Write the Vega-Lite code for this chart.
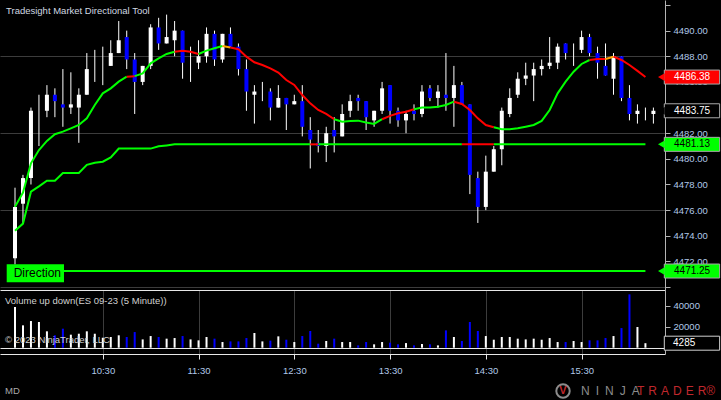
{
"$schema":"https://vega.github.io/schema/vega-lite/v6.json",
"background":"#000000",
"padding":0,
"spacing":0,
"config":{"view":{"stroke":null},"font":"Liberation Sans","scale":{"continuousPadding":0},"axis":{"labelFont":"Liberation Sans","labelFontSize":9.5,"labelColor":"#b0c8e8","gridColor":"#3c3c3c","domainColor":"#b4b4b4","tickColor":"#b4b4b4","tickSize":5,"labelPadding":3,"title":null}},
"datasets":{
"bars":[
{"t":"2023-08-14T09:35","o":4472.25,"h":4477.75,"l":4471.75,"c":4476.25,"v":38700},
{"t":"2023-08-14T09:40","o":4476.5,"h":4478.75,"l":4475,"c":4478.5,"v":21300},
{"t":"2023-08-14T09:45","o":4478.5,"h":4484,"l":4478,"c":4483.75,"v":25400},
{"t":"2023-08-14T09:50","o":4482,"h":4485,"l":4481,"c":4482,"v":24500},
{"t":"2023-08-14T09:55","o":4483.75,"h":4485.75,"l":4483.25,"c":4485,"v":15600},
{"t":"2023-08-14T10:00","o":4485,"h":4485.5,"l":4483.25,"c":4484.5,"v":11800},
{"t":"2023-08-14T10:05","o":4484.25,"h":4487,"l":4482.5,"c":4484,"v":18100},
{"t":"2023-08-14T10:10","o":4484,"h":4486.75,"l":4483.5,"c":4484.25,"v":12400},
{"t":"2023-08-14T10:15","o":4484,"h":4485.5,"l":4481.25,"c":4485,"v":13300},
{"t":"2023-08-14T10:20","o":4485,"h":4488.25,"l":4485,"c":4487,"v":15600},
{"t":"2023-08-14T10:25","o":4487,"h":4488.5,"l":4486,"c":4487,"v":13300},
{"t":"2023-08-14T10:30","o":4487.25,"h":4488.75,"l":4485.75,"c":4487.25,"v":9500},
{"t":"2023-08-14T10:35","o":4487.25,"h":4489.25,"l":4487.25,"c":4488.25,"v":10200},
{"t":"2023-08-14T10:40","o":4488.25,"h":4490.75,"l":4488.25,"c":4489.25,"v":11800},
{"t":"2023-08-14T10:45","o":4489.5,"h":4490,"l":4487,"c":4487.75,"v":10200},
{"t":"2023-08-14T10:50","o":4487.75,"h":4488.25,"l":4483.5,"c":4486,"v":14900},
{"t":"2023-08-14T10:55","o":4486,"h":4487.25,"l":4485.75,"c":4487.25,"v":7900},
{"t":"2023-08-14T11:00","o":4487.25,"h":4490.5,"l":4487,"c":4490.25,"v":11100},
{"t":"2023-08-14T11:05","o":4490.25,"h":4491,"l":4488.5,"c":4489,"v":10200},
{"t":"2023-08-14T11:10","o":4489,"h":4491.25,"l":4489,"c":4489.5,"v":8600},
{"t":"2023-08-14T11:15","o":4489.25,"h":4490.75,"l":4488,"c":4490,"v":9200},
{"t":"2023-08-14T11:20","o":4490,"h":4490,"l":4486.25,"c":4487.5,"v":11100},
{"t":"2023-08-14T11:25","o":4487.5,"h":4488.75,"l":4486,"c":4487.5,"v":7900},
{"t":"2023-08-14T11:30","o":4487.5,"h":4489.25,"l":4487,"c":4488,"v":7000},
{"t":"2023-08-14T11:35","o":4488,"h":4490.25,"l":4487.5,"c":4489.75,"v":10200},
{"t":"2023-08-14T11:40","o":4489.75,"h":4490,"l":4487.25,"c":4487.75,"v":8600},
{"t":"2023-08-14T11:45","o":4487.75,"h":4489.75,"l":4487.5,"c":4489.75,"v":5400},
{"t":"2023-08-14T11:50","o":4489.75,"h":4490.25,"l":4488.75,"c":4488.75,"v":6000},
{"t":"2023-08-14T11:55","o":4488.75,"h":4489,"l":4486.5,"c":4487,"v":6000},
{"t":"2023-08-14T12:00","o":4487,"h":4487.75,"l":4483.75,"c":4485.25,"v":9200},
{"t":"2023-08-14T12:05","o":4485,"h":4485.75,"l":4482.75,"c":4485.25,"v":14000},
{"t":"2023-08-14T12:10","o":4485.25,"h":4486,"l":4484.5,"c":4485.25,"v":6000},
{"t":"2023-08-14T12:15","o":4485.25,"h":4485.5,"l":4483,"c":4484,"v":6700},
{"t":"2023-08-14T12:20","o":4484,"h":4485.75,"l":4484,"c":4484.75,"v":10800},
{"t":"2023-08-14T12:25","o":4484.75,"h":4484.75,"l":4482.25,"c":4484.25,"v":7600},
{"t":"2023-08-14T12:30","o":4484.25,"h":4485,"l":4484.25,"c":4484.5,"v":5400},
{"t":"2023-08-14T12:35","o":4484.5,"h":4485.75,"l":4481.75,"c":4482.5,"v":11100},
{"t":"2023-08-14T12:40","o":4482.25,"h":4483.25,"l":4479.25,"c":4481.5,"v":15900},
{"t":"2023-08-14T12:45","o":4481.25,"h":4482.25,"l":4480.5,"c":4481,"v":3800},
{"t":"2023-08-14T12:50","o":4481,"h":4482.5,"l":4479.75,"c":4482,"v":6400},
{"t":"2023-08-14T12:55","o":4482.25,"h":4483.25,"l":4480.5,"c":4481.75,"v":8600},
{"t":"2023-08-14T13:00","o":4481.75,"h":4484.25,"l":4481.75,"c":4483.5,"v":5400},
{"t":"2023-08-14T13:05","o":4483.75,"h":4485,"l":4483.25,"c":4484.5,"v":5400},
{"t":"2023-08-14T13:10","o":4484.75,"h":4485,"l":4483.75,"c":4484.5,"v":2200},
{"t":"2023-08-14T13:15","o":4484.5,"h":4484.5,"l":4482.25,"c":4483.25,"v":5400},
{"t":"2023-08-14T13:20","o":4483,"h":4483.75,"l":4482.5,"c":4483.75,"v":3200},
{"t":"2023-08-14T13:25","o":4483.75,"h":4486,"l":4483.5,"c":4485.5,"v":5400},
{"t":"2023-08-14T13:30","o":4485.75,"h":4485.75,"l":4482.75,"c":4483.75,"v":4800},
{"t":"2023-08-14T13:35","o":4483.75,"h":4484,"l":4482.5,"c":4483,"v":3200},
{"t":"2023-08-14T13:40","o":4483,"h":4483.75,"l":4482,"c":4483.5,"v":4400},
{"t":"2023-08-14T13:45","o":4483.75,"h":4484.25,"l":4483,"c":4483.5,"v":2200},
{"t":"2023-08-14T13:50","o":4483.5,"h":4485.75,"l":4483.25,"c":4485.25,"v":3500},
{"t":"2023-08-14T13:55","o":4485.5,"h":4485.75,"l":4484.5,"c":4484.75,"v":3200},
{"t":"2023-08-14T14:00","o":4484.75,"h":4485.75,"l":4484,"c":4485.25,"v":2200},
{"t":"2023-08-14T14:05","o":4485,"h":4488.25,"l":4483.75,"c":4484.75,"v":16500},
{"t":"2023-08-14T14:10","o":4484.75,"h":4487.25,"l":4482.5,"c":4485.75,"v":10200},
{"t":"2023-08-14T14:15","o":4485.75,"h":4486,"l":4484.25,"c":4484.25,"v":6400},
{"t":"2023-08-14T14:20","o":4484.25,"h":4484.25,"l":4477.25,"c":4478.75,"v":24500},
{"t":"2023-08-14T14:25","o":4478.5,"h":4479,"l":4475,"c":4476.25,"v":15900},
{"t":"2023-08-14T14:30","o":4476.25,"h":4480.25,"l":4476,"c":4479,"v":11100},
{"t":"2023-08-14T14:35","o":4479,"h":4481,"l":4479,"c":4480.75,"v":7600},
{"t":"2023-08-14T14:40","o":4480.75,"h":4484,"l":4479.5,"c":4483.75,"v":10200},
{"t":"2023-08-14T14:45","o":4483.5,"h":4485.5,"l":4483.25,"c":4484.75,"v":10200},
{"t":"2023-08-14T14:50","o":4485,"h":4486.75,"l":4484.75,"c":4486.25,"v":8600},
{"t":"2023-08-14T14:55","o":4486.25,"h":4487.5,"l":4485.75,"c":4486.5,"v":7900},
{"t":"2023-08-14T15:00","o":4486.5,"h":4487.5,"l":4484.5,"c":4487,"v":8600},
{"t":"2023-08-14T15:05","o":4487,"h":4487.75,"l":4486.5,"c":4487.25,"v":7600},
{"t":"2023-08-14T15:10","o":4487.25,"h":4489.5,"l":4487,"c":4487.5,"v":9200},
{"t":"2023-08-14T15:15","o":4487.5,"h":4489,"l":4487,"c":4488.75,"v":5400},
{"t":"2023-08-14T15:20","o":4489,"h":4489,"l":4487.75,"c":4488.25,"v":5400},
{"t":"2023-08-14T15:25","o":4488.25,"h":4489,"l":4487.25,"c":4488.25,"v":6400},
{"t":"2023-08-14T15:30","o":4488.5,"h":4490,"l":4488.25,"c":4489.5,"v":5400},
{"t":"2023-08-14T15:35","o":4489.5,"h":4489.75,"l":4488,"c":4488.25,"v":7000},
{"t":"2023-08-14T15:40","o":4488.25,"h":4488.75,"l":4486.25,"c":4487.5,"v":7000},
{"t":"2023-08-14T15:45","o":4487.25,"h":4489,"l":4486.5,"c":4486.5,"v":9200},
{"t":"2023-08-14T15:50","o":4486.25,"h":4488.25,"l":4485,"c":4488,"v":11100},
{"t":"2023-08-14T15:55","o":4488,"h":4488,"l":4484.5,"c":4484.75,"v":18700},
{"t":"2023-08-14T16:00","o":4484.75,"h":4485.75,"l":4483,"c":4483.5,"v":50800},
{"t":"2023-08-14T16:05","o":4483.5,"h":4484.25,"l":4482.75,"c":4483.75,"v":19700},
{"t":"2023-08-14T16:10","o":4483.5,"h":4484,"l":4483,"c":4483.5,"v":4285},
{"t":"2023-08-14T16:15","o":4483.5,"h":4484,"l":4482.75,"c":4483.75}
],
"lines":[
{"t":"2023-08-14T09:35","p":4476.27,"s":"up","g":1},{"t":"2023-08-14T09:40","p":4477.37,"s":"up","g":1},{"t":"2023-08-14T09:45","p":4479.65,"s":"up","g":1},{"t":"2023-08-14T09:50","p":4480.69,"s":"up","g":1},{"t":"2023-08-14T09:55","p":4481.4,"s":"up","g":1},{"t":"2023-08-14T10:00","p":4481.92,"s":"up","g":1},{"t":"2023-08-14T10:05","p":4482.12,"s":"up","g":1},{"t":"2023-08-14T10:10","p":4482.38,"s":"up","g":1},{"t":"2023-08-14T10:15","p":4482.64,"s":"up","g":1},{"t":"2023-08-14T10:20","p":4483.16,"s":"up","g":1},{"t":"2023-08-14T10:25","p":4484.2,"s":"up","g":1},{"t":"2023-08-14T10:30","p":4485.11,"s":"up","g":1},{"t":"2023-08-14T10:35","p":4485.5,"s":"up","g":1},{"t":"2023-08-14T10:40","p":4486.02,"s":"up","g":1},{"t":"2023-08-14T10:45","p":4486.41,"s":"up","g":1},
{"t":"2023-08-14T10:45","p":4486.41,"s":"down","g":2},{"t":"2023-08-14T10:50","p":4486.45,"s":"down","g":2},
{"t":"2023-08-14T10:50","p":4486.45,"s":"up","g":3},{"t":"2023-08-14T10:55","p":4486.67,"s":"up","g":3},{"t":"2023-08-14T11:00","p":4487.45,"s":"up","g":3},{"t":"2023-08-14T11:05","p":4487.84,"s":"up","g":3},{"t":"2023-08-14T11:10","p":4488.18,"s":"up","g":3},{"t":"2023-08-14T11:15","p":4488.36,"s":"up","g":3},
{"t":"2023-08-14T11:15","p":4488.36,"s":"down","g":4},{"t":"2023-08-14T11:20","p":4488.44,"s":"down","g":4},{"t":"2023-08-14T11:25","p":4488.36,"s":"down","g":4},{"t":"2023-08-14T11:30","p":4488.18,"s":"down","g":4},
{"t":"2023-08-14T11:30","p":4488.18,"s":"up","g":5},{"t":"2023-08-14T11:35","p":4488.44,"s":"up","g":5},{"t":"2023-08-14T11:40","p":4488.62,"s":"up","g":5},{"t":"2023-08-14T11:45","p":4488.8,"s":"up","g":5},
{"t":"2023-08-14T11:45","p":4488.8,"s":"flat","g":6},{"t":"2023-08-14T11:50","p":4488.68,"s":"flat","g":6},
{"t":"2023-08-14T11:50","p":4488.68,"s":"down","g":7},{"t":"2023-08-14T11:55","p":4488.55,"s":"down","g":7},{"t":"2023-08-14T12:00","p":4487.97,"s":"down","g":7},{"t":"2023-08-14T12:05","p":4487.53,"s":"down","g":7},{"t":"2023-08-14T12:10","p":4487.32,"s":"down","g":7},{"t":"2023-08-14T12:15","p":4487.06,"s":"down","g":7},{"t":"2023-08-14T12:20","p":4486.73,"s":"down","g":7},{"t":"2023-08-14T12:25","p":4486.15,"s":"down","g":7},{"t":"2023-08-14T12:30","p":4485.76,"s":"down","g":7},{"t":"2023-08-14T12:35","p":4484.98,"s":"down","g":7},{"t":"2023-08-14T12:40","p":4484.33,"s":"down","g":7},{"t":"2023-08-14T12:45","p":4483.81,"s":"down","g":7},{"t":"2023-08-14T12:50","p":4483.5,"s":"down","g":7},{"t":"2023-08-14T12:55","p":4483.09,"s":"down","g":7},
{"t":"2023-08-14T12:55","p":4483.09,"s":"up","g":8},{"t":"2023-08-14T13:00","p":4482.9,"s":"up","g":8},{"t":"2023-08-14T13:05","p":4482.96,"s":"up","g":8},{"t":"2023-08-14T13:10","p":4482.98,"s":"up","g":8},{"t":"2023-08-14T13:15","p":4482.83,"s":"up","g":8},{"t":"2023-08-14T13:20","p":4482.72,"s":"up","g":8},{"t":"2023-08-14T13:25","p":4483.09,"s":"up","g":8},
{"t":"2023-08-14T13:25","p":4483.09,"s":"down","g":9},{"t":"2023-08-14T13:30","p":4483.35,"s":"down","g":9},{"t":"2023-08-14T13:35","p":4483.55,"s":"down","g":9},{"t":"2023-08-14T13:40","p":4483.68,"s":"down","g":9},{"t":"2023-08-14T13:45","p":4483.87,"s":"down","g":9},
{"t":"2023-08-14T13:45","p":4483.87,"s":"up","g":10},{"t":"2023-08-14T13:50","p":4484.0,"s":"up","g":10},{"t":"2023-08-14T13:55","p":4484.0,"s":"up","g":10},{"t":"2023-08-14T14:00","p":4484.07,"s":"up","g":10},{"t":"2023-08-14T14:05","p":4484.2,"s":"up","g":10},{"t":"2023-08-14T14:10","p":4484.46,"s":"up","g":10},
{"t":"2023-08-14T14:10","p":4484.46,"s":"down","g":11},{"t":"2023-08-14T14:15","p":4484.28,"s":"down","g":11},{"t":"2023-08-14T14:20","p":4483.81,"s":"down","g":11},{"t":"2023-08-14T14:25","p":4483.16,"s":"down","g":11},{"t":"2023-08-14T14:30","p":4482.64,"s":"down","g":11},{"t":"2023-08-14T14:35","p":4482.46,"s":"down","g":11},
{"t":"2023-08-14T14:35","p":4482.46,"s":"up","g":12},{"t":"2023-08-14T14:40","p":4482.31,"s":"up","g":12},{"t":"2023-08-14T14:45","p":4482.31,"s":"up","g":12},{"t":"2023-08-14T14:50","p":4482.38,"s":"up","g":12},{"t":"2023-08-14T14:55","p":4482.51,"s":"up","g":12},{"t":"2023-08-14T15:00","p":4482.64,"s":"up","g":12},{"t":"2023-08-14T15:05","p":4482.96,"s":"up","g":12},{"t":"2023-08-14T15:10","p":4483.81,"s":"up","g":12},{"t":"2023-08-14T15:15","p":4485.11,"s":"up","g":12},{"t":"2023-08-14T15:20","p":4486.02,"s":"up","g":12},{"t":"2023-08-14T15:25","p":4486.8,"s":"up","g":12},{"t":"2023-08-14T15:30","p":4487.4,"s":"up","g":12},{"t":"2023-08-14T15:35","p":4487.71,"s":"up","g":12},
{"t":"2023-08-14T15:35","p":4487.71,"s":"down","g":13},{"t":"2023-08-14T15:40","p":4487.79,"s":"down","g":13},{"t":"2023-08-14T15:45","p":4487.79,"s":"down","g":13},
{"t":"2023-08-14T15:45","p":4487.79,"s":"flat","g":14},{"t":"2023-08-14T15:50","p":4487.97,"s":"flat","g":14},
{"t":"2023-08-14T15:50","p":4487.97,"s":"down","g":15},{"t":"2023-08-14T15:55","p":4487.71,"s":"down","g":15},{"t":"2023-08-14T16:00","p":4487.32,"s":"down","g":15},{"t":"2023-08-14T16:05","p":4486.86,"s":"down","g":15},{"t":"2023-08-14T16:10","p":4486.38,"s":"down","g":15},
{"t":"2023-08-14T09:35","p":4474.4,"s":"up","g":21},{"t":"2023-08-14T09:40","p":4474.95,"s":"up","g":21},{"t":"2023-08-14T09:45","p":4477.44,"s":"up","g":21},{"t":"2023-08-14T09:50","p":4477.85,"s":"up","g":21},{"t":"2023-08-14T09:55","p":4478.3,"s":"up","g":21},{"t":"2023-08-14T10:00","p":4478.3,"s":"up","g":21},{"t":"2023-08-14T10:05","p":4478.9,"s":"up","g":21},{"t":"2023-08-14T10:10","p":4478.9,"s":"up","g":21},{"t":"2023-08-14T10:15","p":4478.9,"s":"up","g":21},{"t":"2023-08-14T10:20","p":4479.53,"s":"up","g":21},{"t":"2023-08-14T10:25","p":4479.7,"s":"up","g":21},{"t":"2023-08-14T10:30","p":4479.78,"s":"up","g":21},{"t":"2023-08-14T10:35","p":4480.11,"s":"up","g":21},{"t":"2023-08-14T10:40","p":4480.8,"s":"up","g":21},{"t":"2023-08-14T10:45","p":4480.8,"s":"up","g":21},{"t":"2023-08-14T10:50","p":4480.8,"s":"up","g":21},{"t":"2023-08-14T10:55","p":4480.8,"s":"up","g":21},{"t":"2023-08-14T11:00","p":4480.8,"s":"up","g":21},{"t":"2023-08-14T11:05","p":4480.98,"s":"up","g":21},{"t":"2023-08-14T11:10","p":4481.05,"s":"up","g":21},{"t":"2023-08-14T11:15","p":4481.13,"s":"up","g":21},{"t":"2023-08-14T12:40","p":4481.13,"s":"up","g":21},
{"t":"2023-08-14T12:40","p":4481.13,"s":"down","g":22},{"t":"2023-08-14T12:45","p":4481.13,"s":"down","g":22},
{"t":"2023-08-14T12:45","p":4481.13,"s":"up","g":23},{"t":"2023-08-14T14:15","p":4481.13,"s":"up","g":23},
{"t":"2023-08-14T14:15","p":4481.13,"s":"down","g":24},{"t":"2023-08-14T14:35","p":4481.13,"s":"down","g":24},
{"t":"2023-08-14T14:35","p":4481.13,"s":"up","g":25},{"t":"2023-08-14T16:10","p":4481.13,"s":"up","g":25},
{"t":"2023-08-14T09:35","p":4471.25,"s":"up","g":30},{"t":"2023-08-14T16:10","p":4471.25,"s":"up","g":30}
],
"pflags":[{"p":4486.38,"k":"trend"},{"p":4483.75,"k":"last"},{"p":4481.13,"k":"stop"},{"p":4471.25,"k":"dir"}]
},
"vconcat":[
{"width":665,"height":290,
 "resolve":{"axis":{"y":"independent"}},
 "layer":[
  {"data":{"name":"bars"},
   "mark":{"type":"rule","color":"#ffffff","strokeWidth":1},
   "encoding":{
    "x":{"field":"t","type":"temporal","scale":{"padding":0,"domain":[{"year":2023,"month":8,"date":14,"hours":9,"minutes":25,"seconds":36},{"year":2023,"month":8,"date":14,"hours":16,"minutes":22,"seconds":16}]},
         "axis":{"orient":"bottom","values":[{"year":2023,"month":8,"date":14,"hours":10,"minutes":30},{"year":2023,"month":8,"date":14,"hours":11,"minutes":30},{"year":2023,"month":8,"date":14,"hours":12,"minutes":30},{"year":2023,"month":8,"date":14,"hours":13,"minutes":30},{"year":2023,"month":8,"date":14,"hours":14,"minutes":30},{"year":2023,"month":8,"date":14,"hours":15,"minutes":30}],"labels":false,"ticks":false,"domain":false,"grid":true,"minExtent":0,"maxExtent":0}},
    "y":{"field":"l","type":"quantitative","scale":{"padding":0,"domain":[4469.77,4492.39],"nice":false,"zero":false},
         "axis":{"orient":"right","values":[4470,4472,4474,4476,4478,4480,4482,4484,4486,4488,4490,4492],"grid":false,
                 "labelExpr":"(datum.value === 4470 || datum.value === 4484 || datum.value === 4492) ? '' : format(datum.value, '.2f')"}},
    "y2":{"field":"h"}}},
  {"data":{"name":"bars"},
   "mark":{"type":"bar","width":4},
   "encoding":{
    "x":{"field":"t","type":"temporal","scale":{"padding":0,"domain":[{"year":2023,"month":8,"date":14,"hours":9,"minutes":25,"seconds":36},{"year":2023,"month":8,"date":14,"hours":16,"minutes":22,"seconds":16}]},"axis":null},
    "y":{"field":"o","type":"quantitative","scale":{"padding":0,"domain":[4469.77,4492.39],"nice":false,"zero":false},"axis":null},
    "y2":{"field":"c"},
    "color":{"condition":{"test":"datum.c < datum.o","value":"#0000ff"},"value":"#ffffff"}}},
  {"data":{"name":"lines"},
   "mark":{"type":"line","strokeWidth":2},
   "encoding":{
    "x":{"field":"t","type":"temporal","scale":{"padding":0,"domain":[{"year":2023,"month":8,"date":14,"hours":9,"minutes":25,"seconds":36},{"year":2023,"month":8,"date":14,"hours":16,"minutes":22,"seconds":16}]},"axis":null},
    "y":{"field":"p","type":"quantitative","scale":{"padding":0,"domain":[4469.77,4492.39],"nice":false,"zero":false},
         "axis":{"orient":"left","values":[4470,4476,4482,4488],"labels":false,"ticks":false,"domain":false,"grid":true,"minExtent":0,"maxExtent":0}},
    "detail":{"field":"g","type":"nominal"},
    "color":{"field":"s","type":"nominal","scale":{"domain":["up","down","flat"],"range":["#00ff00","#ff0000","#ffa500"]},"legend":null}}},
  {"data":{"values":[{"txt":"Tradesight Market Directional Tool"}]},
   "mark":{"type":"text","align":"left","baseline":"middle","fontSize":9.5,"color":"#d0d8e0"},
   "encoding":{
    "x":{"datum":{"year":2023,"month":8,"date":14,"hours":9,"minutes":29,"seconds":22},"type":"temporal","scale":{"padding":0,"domain":[{"year":2023,"month":8,"date":14,"hours":9,"minutes":25,"seconds":36},{"year":2023,"month":8,"date":14,"hours":16,"minutes":22,"seconds":16}]},"axis":null},
    "y":{"datum":4491.53,"type":"quantitative","scale":{"padding":0,"domain":[4469.77,4492.39],"nice":false,"zero":false},"axis":null},
    "text":{"field":"txt"}}},
  {"data":{"values":[{"p":4471.07,"txt":"Direction"}]},
   "mark":{"type":"rect","color":"#00ff00","yOffset":-9,"y2Offset":9},
   "encoding":{
    "x":{"datum":{"year":2023,"month":8,"date":14,"hours":9,"minutes":29,"seconds":48},"type":"temporal","scale":{"padding":0,"domain":[{"year":2023,"month":8,"date":14,"hours":9,"minutes":25,"seconds":36},{"year":2023,"month":8,"date":14,"hours":16,"minutes":22,"seconds":16}]},"axis":null},
    "x2":{"datum":{"year":2023,"month":8,"date":14,"hours":10,"minutes":5,"seconds":42}},
    "y":{"field":"p","type":"quantitative","scale":{"padding":0,"domain":[4469.77,4492.39],"nice":false,"zero":false},"axis":null},
    "y2":{"field":"p"}}},
  {"data":{"values":[{"p":4471.07,"txt":"Direction"}]},
   "mark":{"type":"text","align":"center","baseline":"middle","dx":2,"fontSize":12,"color":"#000000"},
   "encoding":{
    "x":{"datum":{"year":2023,"month":8,"date":14,"hours":9,"minutes":47,"seconds":43},"type":"temporal","scale":{"padding":0,"domain":[{"year":2023,"month":8,"date":14,"hours":9,"minutes":25,"seconds":36},{"year":2023,"month":8,"date":14,"hours":16,"minutes":22,"seconds":16}]},"axis":null},
    "y":{"field":"p","type":"quantitative","scale":{"padding":0,"domain":[4469.77,4492.39],"nice":false,"zero":false},"axis":null},
    "text":{"field":"txt"}}},
  {"data":{"name":"pflags"},
   "mark":{"type":"rect","stroke":"#a8a8a8","strokeWidth":1,"yOffset":-7,"y2Offset":7},
   "encoding":{
    "x":{"datum":{"year":2023,"month":8,"date":14,"hours":16,"minutes":21,"seconds":50},"type":"temporal","scale":{"padding":0,"domain":[{"year":2023,"month":8,"date":14,"hours":9,"minutes":25,"seconds":36},{"year":2023,"month":8,"date":14,"hours":16,"minutes":22,"seconds":16}]},"axis":null},
    "x2":{"datum":{"year":2023,"month":8,"date":14,"hours":16,"minutes":56,"seconds":30}},
    "y":{"field":"p","type":"quantitative","scale":{"padding":0,"domain":[4469.77,4492.39],"nice":false,"zero":false},"axis":null},
    "y2":{"field":"p"},
    "fill":{"field":"k","type":"nominal","scale":{"domain":["trend","last","stop","dir"],"range":["#ff0000","#000000","#00ff00","#00ff00"]},"legend":null}}},
  {"data":{"name":"pflags"},
   "mark":{"type":"point","shape":"triangle-left","size":60,"filled":true,"opacity":1},
   "encoding":{
    "x":{"datum":{"year":2023,"month":8,"date":14,"hours":16,"minutes":20,"seconds":0},"type":"temporal","scale":{"padding":0,"domain":[{"year":2023,"month":8,"date":14,"hours":9,"minutes":25,"seconds":36},{"year":2023,"month":8,"date":14,"hours":16,"minutes":22,"seconds":16}]},"axis":null},
    "y":{"field":"p","type":"quantitative","scale":{"padding":0,"domain":[4469.77,4492.39],"nice":false,"zero":false},"axis":null},
    "fill":{"field":"k","type":"nominal","scale":{"domain":["trend","last","stop","dir"],"range":["#ff0000","#000000","#00ff00","#00ff00"]},"legend":null}}},
  {"data":{"name":"pflags"},
   "mark":{"type":"text","align":"left","baseline":"middle","fontSize":10},
   "encoding":{
    "x":{"datum":{"year":2023,"month":8,"date":14,"hours":16,"minutes":27,"seconds":55},"type":"temporal","scale":{"padding":0,"domain":[{"year":2023,"month":8,"date":14,"hours":9,"minutes":25,"seconds":36},{"year":2023,"month":8,"date":14,"hours":16,"minutes":22,"seconds":16}]},"axis":null},
    "y":{"field":"p","type":"quantitative","scale":{"padding":0,"domain":[4469.77,4492.39],"nice":false,"zero":false},"axis":null},
    "text":{"field":"p","type":"quantitative","format":".2f"},
    "color":{"condition":{"test":"datum.k === 'stop' || datum.k === 'dir'","value":"#000000"},"value":"#ffffff"}}}
 ]},
{"width":665,"height":64,
 "resolve":{"axis":{"x":"independent","y":"independent"}},
 "layer":[
  {"data":{"name":"bars"},
   "mark":{"type":"bar","width":2},
   "encoding":{
    "x":{"field":"t","type":"temporal","scale":{"padding":0,"domain":[{"year":2023,"month":8,"date":14,"hours":9,"minutes":25,"seconds":36},{"year":2023,"month":8,"date":14,"hours":16,"minutes":22,"seconds":16}]},
         "axis":{"orient":"bottom","values":[{"year":2023,"month":8,"date":14,"hours":10,"minutes":30},{"year":2023,"month":8,"date":14,"hours":11,"minutes":30},{"year":2023,"month":8,"date":14,"hours":12,"minutes":30},{"year":2023,"month":8,"date":14,"hours":13,"minutes":30},{"year":2023,"month":8,"date":14,"hours":14,"minutes":30},{"year":2023,"month":8,"date":14,"hours":15,"minutes":30}],"format":"%H:%M","grid":true,"domainColor":"#e8e8e8","tickColor":"#e8e8e8","tickSize":5,"labelPadding":6}},
    "y":{"field":"v","type":"quantitative","scale":{"padding":0,"domain":[-6000,54952],"nice":false,"zero":false},
         "axis":{"orient":"right","values":[20000,40000],"format":"d","grid":false}},
    "y2":{"datum":0},
    "color":{"condition":{"test":"datum.c < datum.o","value":"#0000ff"},"value":"#ffffff"}}},
  {"data":{"values":[{"txt":"Volume up down(ES 09-23 (5 Minute))","v":44476},{"txt":"© 2023 NinjaTrader, LLC","v":7332}]},
   "mark":{"type":"text","align":"left","baseline":"middle","fontSize":9.5,"color":"#d0d0d0"},
   "encoding":{
    "x":{"datum":{"year":2023,"month":8,"date":14,"hours":9,"minutes":28,"seconds":44},"type":"temporal","scale":{"padding":0,"domain":[{"year":2023,"month":8,"date":14,"hours":9,"minutes":25,"seconds":36},{"year":2023,"month":8,"date":14,"hours":16,"minutes":22,"seconds":16}]},
         "axis":{"orient":"top","labels":false,"ticks":false,"grid":false,"domain":true,"domainColor":"#e8e8e8","minExtent":0,"maxExtent":0}},
    "y":{"field":"v","type":"quantitative","scale":{"padding":0,"domain":[-6000,54952],"nice":false,"zero":false},
         "axis":{"orient":"left","values":[0],"labels":false,"ticks":false,"domain":false,"grid":true,"gridColor":"#e8e8e8","minExtent":0,"maxExtent":0}},
    "text":{"field":"txt"}}},
  {"data":{"values":[{"txt":"MD"}]},
   "mark":{"type":"text","align":"left","baseline":"middle","fontSize":9.5,"color":"#a8a8a8"},
   "encoding":{
    "x":{"datum":{"year":2023,"month":8,"date":14,"hours":9,"minutes":28,"seconds":44},"type":"temporal","scale":{"padding":0,"domain":[{"year":2023,"month":8,"date":14,"hours":9,"minutes":25,"seconds":36},{"year":2023,"month":8,"date":14,"hours":16,"minutes":22,"seconds":16}]},"axis":null},
    "y":{"datum":-40800,"type":"quantitative","scale":{"padding":0,"domain":[-6000,54952],"nice":false,"zero":false},"axis":null},
    "text":{"field":"txt"}}},
  {"data":{"values":[{"txt":"N\u2002I\u2002N\u2002J\u2002A"}]},
   "mark":{"type":"text","align":"left","baseline":"middle","fontSize":12,"color":"#8c8c8c"},
   "encoding":{
    "x":{"datum":{"year":2023,"month":8,"date":14,"hours":15,"minutes":29,"seconds":38},"type":"temporal","scale":{"padding":0,"domain":[{"year":2023,"month":8,"date":14,"hours":9,"minutes":25,"seconds":36},{"year":2023,"month":8,"date":14,"hours":16,"minutes":22,"seconds":16}]},"axis":null},
    "y":{"datum":-41240,"type":"quantitative","scale":{"padding":0,"domain":[-6000,54952],"nice":false,"zero":false},"axis":null},
    "text":{"field":"txt"}}},
  {"data":{"values":[{"txt":"T\u2004R\u2004A\u2004D\u2004E\u2004R\u00ae"}]},
   "mark":{"type":"text","align":"left","baseline":"middle","fontSize":12,"color":"#c0282d"},
   "encoding":{
    "x":{"datum":{"year":2023,"month":8,"date":14,"hours":16,"minutes":4,"seconds":44},"type":"temporal","scale":{"padding":0,"domain":[{"year":2023,"month":8,"date":14,"hours":9,"minutes":25,"seconds":36},{"year":2023,"month":8,"date":14,"hours":16,"minutes":22,"seconds":16}]},"axis":null},
    "y":{"datum":-41240,"type":"quantitative","scale":{"padding":0,"domain":[-6000,54952],"nice":false,"zero":false},"axis":null},
    "text":{"field":"txt"}}},
  {"data":{"values":[{"txt":"V"}]},
   "mark":{"type":"point","shape":"circle","size":180,"filled":false,"opacity":1,"color":"#8c8c8c","strokeWidth":2},
   "encoding":{
    "x":{"datum":{"year":2023,"month":8,"date":14,"hours":15,"minutes":18,"seconds":22},"type":"temporal","scale":{"padding":0,"domain":[{"year":2023,"month":8,"date":14,"hours":9,"minutes":25,"seconds":36},{"year":2023,"month":8,"date":14,"hours":16,"minutes":22,"seconds":16}]},"axis":null},
    "y":{"datum":-41240,"type":"quantitative","scale":{"padding":0,"domain":[-6000,54952],"nice":false,"zero":false},"axis":null}}},
  {"data":{"values":[{"txt":"V"}]},
   "mark":{"type":"text","align":"center","baseline":"middle","fontSize":11,"fontWeight":"bold","color":"#c0282d"},
   "encoding":{
    "x":{"datum":{"year":2023,"month":8,"date":14,"hours":15,"minutes":18,"seconds":22},"type":"temporal","scale":{"padding":0,"domain":[{"year":2023,"month":8,"date":14,"hours":9,"minutes":25,"seconds":36},{"year":2023,"month":8,"date":14,"hours":16,"minutes":22,"seconds":16}]},"axis":null},
    "y":{"datum":-41240,"type":"quantitative","scale":{"padding":0,"domain":[-6000,54952],"nice":false,"zero":false},"axis":null},
    "text":{"field":"txt"}}},
  {"data":{"values":[{"v":4285}]},
   "mark":{"type":"rect","color":"#000000","stroke":"#d0d0d0","strokeWidth":1,"yOffset":-7,"y2Offset":7},
   "encoding":{
    "x":{"datum":{"year":2023,"month":8,"date":14,"hours":16,"minutes":21,"seconds":50},"type":"temporal","scale":{"padding":0,"domain":[{"year":2023,"month":8,"date":14,"hours":9,"minutes":25,"seconds":36},{"year":2023,"month":8,"date":14,"hours":16,"minutes":22,"seconds":16}]},"axis":null},
    "x2":{"datum":{"year":2023,"month":8,"date":14,"hours":16,"minutes":56,"seconds":30}},
    "y":{"field":"v","type":"quantitative","scale":{"padding":0,"domain":[-6000,54952],"nice":false,"zero":false},"axis":null},
    "y2":{"field":"v"}}},
  {"data":{"values":[{"v":4285}]},
   "mark":{"type":"text","align":"left","baseline":"middle","fontSize":10,"color":"#ffffff"},
   "encoding":{
    "x":{"datum":{"year":2023,"month":8,"date":14,"hours":16,"minutes":27,"seconds":17},"type":"temporal","scale":{"padding":0,"domain":[{"year":2023,"month":8,"date":14,"hours":9,"minutes":25,"seconds":36},{"year":2023,"month":8,"date":14,"hours":16,"minutes":22,"seconds":16}]},"axis":null},
    "y":{"field":"v","type":"quantitative","scale":{"padding":0,"domain":[-6000,54952],"nice":false,"zero":false},"axis":null},
    "text":{"field":"v","type":"quantitative","format":"d"}}}
 ]}
]
}
